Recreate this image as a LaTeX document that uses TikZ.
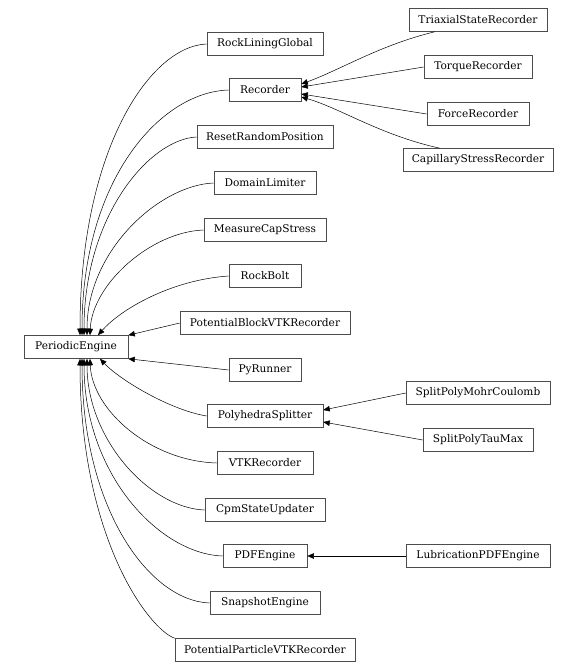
\documentclass[tikz,border=0pt]{standalone}
\usepackage{fontspec}
\setmainfont{DejaVu Serif}
\usetikzlibrary{arrows.meta}
\tikzset{
  cls/.style={draw=black!70, line width=0.6pt, minimum height=23pt, inner sep=0pt, font=\fontsize{10.6}{12}\selectfont, fill=white},
  inh/.style={-{Triangle[length=6.5pt,width=5.5pt]}, line width=0.5pt, black}
}
\begin{document}
\begin{tikzpicture}[x=1pt,y=-1pt]
\useasboundingbox (0,0) rectangle (578,672);
% left column
\node[cls, minimum width=104pt] (pe) at (76,347) {PeriodicEngine};
\node[cls, minimum width=116pt] (rlg) at (265,44) {RockLiningGlobal};
\node[cls, minimum width=72pt] (rec) at (265,90) {Recorder};
\node[cls, minimum width=136pt] (rrp) at (265,137) {ResetRandomPosition};
\node[cls, minimum width=102pt] (dl) at (265,183) {DomainLimiter};
\node[cls, minimum width=122pt] (mcs) at (265,230) {MeasureCapStress};
\node[cls, minimum width=72pt] (rb) at (265,276) {RockBolt};
\node[cls, minimum width=170pt] (pbv) at (265,323) {PotentialBlockVTKRecorder};
\node[cls, minimum width=72pt] (pyr) at (265,370) {PyRunner};
\node[cls, minimum width=116pt] (phs) at (265,416) {PolyhedraSplitter};
\node[cls, minimum width=96pt] (vtk) at (265,463) {VTKRecorder};
\node[cls, minimum width=120pt] (cpm) at (265,510) {CpmStateUpdater};
\node[cls, minimum width=84pt] (pdf) at (265,556) {PDFEngine};
\node[cls, minimum width=110pt] (snap) at (265,603) {SnapshotEngine};
\node[cls, minimum width=180pt] (ppv) at (265,650) {PotentialParticleVTKRecorder};
% right column
\node[cls, minimum width=138pt] (tsr) at (478,20) {TriaxialStateRecorder};
\node[cls, minimum width=108pt] (tor) at (478,67) {TorqueRecorder};
\node[cls, minimum width=102pt] (for) at (478,114) {ForceRecorder};
\node[cls, minimum width=150pt] (csr) at (478,160) {CapillaryStressRecorder};
\node[cls, minimum width=144pt] (spm) at (478,393) {SplitPolyMohrCoulomb};
\node[cls, minimum width=110pt] (spt) at (478,440) {SplitPolyTauMax};
\node[cls, minimum width=144pt] (lub) at (478,556) {LubricationPDFEngine};
% edges into PeriodicEngine (upper)
\draw[inh] (rlg.west) .. controls (150,46) and (80,150) .. (pe.north -| 80,0);
\draw[inh] (rec.west) .. controls (160,92) and (82,180) .. (pe.north -| 82,0);
\draw[inh] (rrp.west) .. controls (150,139) and (84,215) .. (pe.north -| 84,0);
\draw[inh] (dl.west) .. controls (160,185) and (87,250) .. (pe.north -| 87,0);
\draw[inh] (mcs.west) .. controls (150,232) and (92,285) .. (pe.north -| 90,0);
\draw[inh] (rb.west) .. controls (170,280) and (120,310) .. (pe.north -| 98,0);
\draw[inh] (pbv.west) -- (pe.north east);
\draw[inh] (pyr.west) -- (pe.south east);
% lower
\draw[inh] (phs.west) .. controls (170,410) and (120,380) .. (pe.south -| 100,0);
\draw[inh] (vtk.west) .. controls (150,461) and (92,410) .. (pe.south -| 90,0);
\draw[inh] (cpm.west) .. controls (150,508) and (87,440) .. (pe.south -| 87,0);
\draw[inh] (pdf.west) .. controls (160,554) and (84,475) .. (pe.south -| 84,0);
\draw[inh] (snap.west) .. controls (150,601) and (82,510) .. (pe.south -| 82,0);
\draw[inh] (ppv.north west) .. controls (150,630) and (80,540) .. (pe.south -| 80,0);
% into Recorder
\draw[inh] (tsr.south west) ++(26,0) .. controls (380,45) and (340,70) .. (rec.east |- 0,84);
\draw[inh] (tor.west) -- (rec.east |- 0,87);
\draw[inh] (for.west) -- (rec.east |- 0,94);
\draw[inh] (csr.north west) ++(37,0) .. controls (380,135) and (340,108) .. (rec.east |- 0,97);
% into PolyhedraSplitter
\draw[inh] (spm.west) -- (phs.east |- 0,410);
\draw[inh] (spt.west) -- (phs.east |- 0,422);
% into PDFEngine
\draw[inh] (lub.west) -- (pdf.east);
\end{tikzpicture}
\end{document}
